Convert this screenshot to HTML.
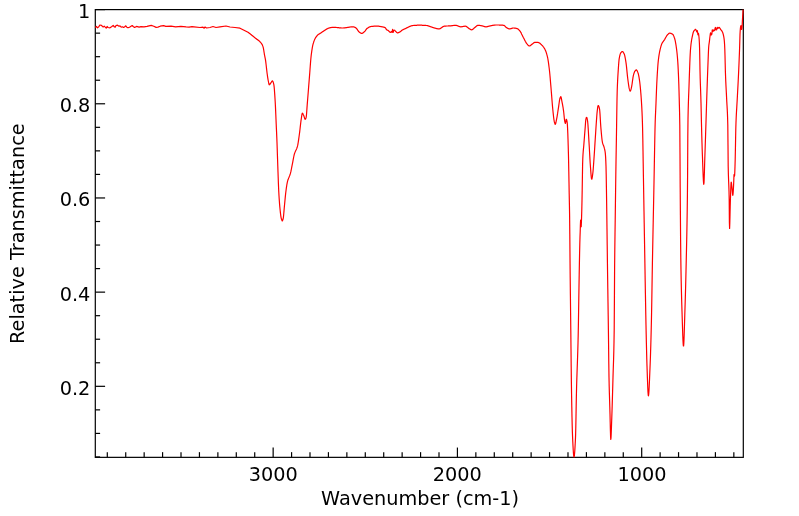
<!DOCTYPE html>
<html><head><meta charset="utf-8"><title>IR Spectrum</title>
<style>
html,body{margin:0;padding:0;background:#fff;}
svg{display:block;}
text{font-family:"DejaVu Sans","Liberation Sans",sans-serif;font-size:19.3px;fill:#000;}
</style></head><body>
<svg width="799" height="516" viewBox="0 0 799 516">
<rect width="799" height="516" fill="#fff"/>
<g stroke="#000" stroke-width="1.2" fill="none">
<rect x="95.3" y="9.6" width="648.0" height="447.75"/>
<line x1="733.84" y1="457.35" x2="733.84" y2="452.15000000000003"/><line x1="715.41" y1="457.35" x2="715.41" y2="452.15000000000003"/><line x1="696.98" y1="457.35" x2="696.98" y2="452.15000000000003"/><line x1="678.55" y1="457.35" x2="678.55" y2="452.15000000000003"/><line x1="660.13" y1="457.35" x2="660.13" y2="452.15000000000003"/><line x1="641.70" y1="457.35" x2="641.70" y2="447.55"/><line x1="623.27" y1="457.35" x2="623.27" y2="452.15000000000003"/><line x1="604.85" y1="457.35" x2="604.85" y2="452.15000000000003"/><line x1="586.42" y1="457.35" x2="586.42" y2="452.15000000000003"/><line x1="567.99" y1="457.35" x2="567.99" y2="452.15000000000003"/><line x1="549.56" y1="457.35" x2="549.56" y2="452.15000000000003"/><line x1="531.13" y1="457.35" x2="531.13" y2="452.15000000000003"/><line x1="512.71" y1="457.35" x2="512.71" y2="452.15000000000003"/><line x1="494.28" y1="457.35" x2="494.28" y2="452.15000000000003"/><line x1="475.85" y1="457.35" x2="475.85" y2="452.15000000000003"/><line x1="457.42" y1="457.35" x2="457.42" y2="447.55"/><line x1="439.00" y1="457.35" x2="439.00" y2="452.15000000000003"/><line x1="420.57" y1="457.35" x2="420.57" y2="452.15000000000003"/><line x1="402.14" y1="457.35" x2="402.14" y2="452.15000000000003"/><line x1="383.71" y1="457.35" x2="383.71" y2="452.15000000000003"/><line x1="365.29" y1="457.35" x2="365.29" y2="452.15000000000003"/><line x1="346.86" y1="457.35" x2="346.86" y2="452.15000000000003"/><line x1="328.43" y1="457.35" x2="328.43" y2="452.15000000000003"/><line x1="310.00" y1="457.35" x2="310.00" y2="452.15000000000003"/><line x1="291.58" y1="457.35" x2="291.58" y2="452.15000000000003"/><line x1="273.15" y1="457.35" x2="273.15" y2="447.55"/><line x1="254.72" y1="457.35" x2="254.72" y2="452.15000000000003"/><line x1="236.29" y1="457.35" x2="236.29" y2="452.15000000000003"/><line x1="217.87" y1="457.35" x2="217.87" y2="452.15000000000003"/><line x1="199.44" y1="457.35" x2="199.44" y2="452.15000000000003"/><line x1="181.01" y1="457.35" x2="181.01" y2="452.15000000000003"/><line x1="162.58" y1="457.35" x2="162.58" y2="452.15000000000003"/><line x1="144.16" y1="457.35" x2="144.16" y2="452.15000000000003"/><line x1="125.73" y1="457.35" x2="125.73" y2="452.15000000000003"/><line x1="107.30" y1="457.35" x2="107.30" y2="452.15000000000003"/>
<line x1="95.3" y1="9.60" x2="105.1" y2="9.60"/><line x1="95.3" y1="33.15" x2="100.1" y2="33.15"/><line x1="95.3" y1="56.69" x2="100.1" y2="56.69"/><line x1="95.3" y1="80.23" x2="100.1" y2="80.23"/><line x1="95.3" y1="103.78" x2="105.1" y2="103.78"/><line x1="95.3" y1="127.33" x2="100.1" y2="127.33"/><line x1="95.3" y1="150.87" x2="100.1" y2="150.87"/><line x1="95.3" y1="174.41" x2="100.1" y2="174.41"/><line x1="95.3" y1="197.96" x2="105.1" y2="197.96"/><line x1="95.3" y1="221.51" x2="100.1" y2="221.51"/><line x1="95.3" y1="245.05" x2="100.1" y2="245.05"/><line x1="95.3" y1="268.60" x2="100.1" y2="268.60"/><line x1="95.3" y1="292.14" x2="105.1" y2="292.14"/><line x1="95.3" y1="315.69" x2="100.1" y2="315.69"/><line x1="95.3" y1="339.23" x2="100.1" y2="339.23"/><line x1="95.3" y1="362.78" x2="100.1" y2="362.78"/><line x1="95.3" y1="386.32" x2="105.1" y2="386.32"/><line x1="95.3" y1="409.87" x2="100.1" y2="409.87"/><line x1="95.3" y1="433.41" x2="100.1" y2="433.41"/><line x1="95.3" y1="456.96" x2="100.1" y2="456.96"/>
</g>
<path d="M95.3,27.5 L96.5,26.5 L97.5,27.8 L98.8,26.8 L99.8,25.0 L101.5,25.4 L102.5,26.5 L103.2,27.0 L104.2,26.2 L105.2,27.2 L106.2,28.2 L107.1,26.5 L108.0,27.5 L110.0,27.8 L111.5,26.8 L113.2,25.5 L114.5,27.0 L115.2,27.2 L116.0,25.5 L117.5,25.2 L119.0,26.2 L120.0,25.9 L121.2,27.2 L122.5,26.8 L123.5,27.5 L124.5,27.0 L125.8,25.8 L126.8,27.2 L128.0,27.8 L129.5,27.2 L131.0,26.2 L132.2,25.5 L133.2,26.5 L134.6,27.5 L136.5,26.4 L139.1,27.1 L141.0,26.6 L144.0,26.8 L147.0,26.4 L151.2,25.4 L153.8,26.2 L156.1,27.4 L157.9,27.1 L160.2,26.2 L163.6,25.6 L165.8,26.4 L171.1,26.2 L175.6,26.8 L180.9,26.4 L186.1,26.9 L189.1,27.1 L192.0,26.6 L194.0,26.8 L200.0,27.5 L203.0,27.2 L204.2,28.2 L205.0,27.0 L206.5,28.0 L210.0,27.5 L213.0,26.5 L216.0,27.5 L220.0,26.8 L226.0,26.0 L230.0,27.0 L235.0,27.5 L240.0,28.2 L244.0,30.2 L248.0,32.2 L250.0,33.7 L250.2,33.9 L250.4,34.1 L250.6,34.2 L250.8,34.4 L251.0,34.6 L251.2,34.8 L251.4,34.9 L251.6,35.1 L251.8,35.2 L252.0,35.4 L252.2,35.6 L252.4,35.7 L252.6,35.9 L252.8,36.0 L253.0,36.2 L253.2,36.4 L253.4,36.5 L253.6,36.7 L253.8,36.9 L254.0,37.0 L254.2,37.2 L254.4,37.3 L254.6,37.5 L254.8,37.7 L255.0,37.8 L255.2,38.0 L255.4,38.2 L255.6,38.3 L255.8,38.5 L256.0,38.6 L256.2,38.8 L256.4,38.9 L256.6,39.1 L256.8,39.2 L257.0,39.4 L257.2,39.5 L257.4,39.6 L257.6,39.8 L257.8,39.9 L258.0,40.1 L258.2,40.2 L258.4,40.4 L258.6,40.5 L258.8,40.7 L259.0,40.9 L259.2,41.0 L259.4,41.2 L259.6,41.4 L259.8,41.6 L260.0,41.8 L260.2,42.0 L260.4,42.2 L260.6,42.4 L260.8,42.7 L261.0,42.9 L261.2,43.2 L261.4,43.4 L261.6,43.7 L261.8,44.0 L262.0,44.4 L262.2,44.7 L262.4,45.1 L262.6,45.6 L262.8,46.1 L263.0,46.6 L263.2,47.3 L263.4,48.2 L263.6,49.3 L263.8,50.5 L264.0,51.8 L264.2,53.0 L264.4,54.3 L264.6,55.4 L264.8,56.4 L265.0,57.4 L265.2,58.3 L265.4,59.4 L265.6,60.6 L265.8,62.1 L266.0,63.7 L266.2,65.5 L266.4,67.2 L266.6,69.1 L266.8,70.8 L267.0,72.5 L267.2,74.0 L267.4,75.4 L267.6,76.8 L267.8,78.2 L268.0,79.4 L268.2,80.5 L268.4,81.5 L268.6,82.5 L268.8,83.5 L269.0,84.3 L269.2,84.7 L269.4,84.8 L269.6,84.7 L269.8,84.5 L270.0,84.2 L270.2,83.9 L270.4,83.6 L270.6,83.3 L270.8,83.0 L271.0,82.7 L271.2,82.4 L271.4,82.1 L271.6,81.7 L271.8,81.4 L272.0,81.2 L272.2,81.0 L272.4,80.9 L272.6,81.0 L272.8,81.3 L273.0,81.7 L273.2,82.2 L273.4,82.9 L273.6,83.6 L273.8,84.4 L274.0,85.6 L274.2,87.4 L274.4,89.7 L274.6,92.5 L274.8,95.4 L275.0,98.5 L275.2,101.8 L275.4,105.6 L275.6,109.9 L275.8,114.5 L276.0,119.3 L276.2,124.0 L276.4,128.5 L276.6,132.9 L276.8,137.5 L277.0,142.6 L277.2,148.3 L277.4,154.4 L277.6,160.4 L277.8,166.2 L278.0,171.9 L278.2,177.6 L278.4,183.2 L278.6,188.2 L278.8,192.3 L279.0,195.8 L279.2,198.9 L279.4,201.8 L279.6,204.4 L279.8,206.7 L280.0,208.8 L280.2,210.7 L280.4,212.6 L280.6,214.3 L280.8,215.8 L281.0,217.1 L281.2,218.1 L281.4,218.8 L281.6,219.5 L281.8,220.1 L282.0,220.5 L282.2,220.8 L282.4,220.8 L282.6,220.5 L282.8,219.9 L283.0,219.3 L283.2,218.5 L283.4,217.3 L283.6,215.5 L283.8,213.3 L284.0,210.9 L284.2,208.5 L284.4,206.3 L284.6,204.2 L284.8,202.1 L285.0,200.0 L285.2,197.9 L285.4,195.9 L285.6,194.0 L285.8,192.3 L286.0,190.7 L286.2,189.2 L286.4,187.7 L286.6,186.3 L286.8,185.0 L287.0,183.9 L287.2,182.8 L287.4,181.9 L287.6,181.1 L287.8,180.4 L288.0,179.8 L288.2,179.2 L288.4,178.7 L288.6,178.1 L288.8,177.7 L289.0,177.2 L289.2,176.7 L289.4,176.3 L289.6,175.8 L289.8,175.3 L290.0,174.7 L290.2,174.1 L290.4,173.5 L290.6,172.7 L290.8,171.9 L291.0,171.0 L291.2,170.0 L291.4,169.0 L291.6,168.0 L291.8,166.9 L292.0,165.9 L292.2,164.9 L292.4,163.9 L292.6,162.9 L292.8,161.8 L293.0,160.7 L293.2,159.6 L293.4,158.6 L293.6,157.5 L293.8,156.5 L294.0,155.6 L294.2,154.7 L294.4,154.0 L294.6,153.3 L294.8,152.8 L295.0,152.2 L295.2,151.8 L295.4,151.3 L295.6,150.9 L295.8,150.5 L296.0,150.1 L296.2,149.7 L296.4,149.2 L296.6,148.8 L296.8,148.3 L297.0,147.7 L297.2,147.1 L297.4,146.5 L297.6,145.7 L297.8,144.8 L298.0,143.7 L298.2,142.5 L298.4,141.2 L298.6,139.9 L298.8,138.4 L299.0,137.0 L299.2,135.5 L299.4,134.0 L299.6,132.6 L299.8,130.9 L300.0,129.2 L300.2,127.4 L300.4,125.6 L300.6,123.9 L300.8,122.2 L301.0,120.7 L301.2,119.3 L301.4,118.0 L301.6,116.6 L301.8,115.3 L302.0,114.2 L302.2,113.5 L302.4,113.2 L302.6,113.3 L302.8,113.5 L303.0,113.9 L303.2,114.4 L303.4,114.8 L303.6,115.3 L303.8,115.8 L304.0,116.3 L304.2,116.9 L304.4,117.6 L304.6,118.2 L304.8,118.8 L305.0,119.2 L305.2,119.3 L305.4,119.2 L305.6,118.9 L305.8,118.5 L306.0,117.9 L306.2,117.2 L306.4,115.6 L306.6,113.3 L306.8,110.5 L307.0,107.6 L307.2,104.9 L307.4,102.4 L307.6,100.0 L307.8,97.5 L308.0,95.0 L308.2,92.5 L308.4,90.0 L308.6,87.4 L308.8,84.9 L309.0,82.4 L309.2,79.9 L309.4,77.4 L309.6,74.9 L309.8,72.2 L310.0,69.5 L310.2,66.8 L310.4,64.1 L310.6,61.6 L310.8,59.3 L311.0,57.2 L311.2,55.4 L311.4,53.8 L311.6,52.3 L311.8,50.9 L312.0,49.6 L312.2,48.3 L312.4,47.2 L312.6,46.2 L312.8,45.2 L313.0,44.4 L313.2,43.6 L313.4,43.0 L313.6,42.3 L313.8,41.7 L314.0,41.1 L314.2,40.6 L314.4,40.1 L314.6,39.6 L314.8,39.2 L315.0,38.8 L315.2,38.4 L315.4,38.0 L315.6,37.7 L315.8,37.4 L316.0,37.1 L316.2,36.8 L316.4,36.5 L316.6,36.3 L316.8,36.0 L317.0,35.8 L317.2,35.5 L317.4,35.3 L317.6,35.1 L317.8,34.9 L318.0,34.8 L318.2,34.6 L318.4,34.4 L318.6,34.3 L318.8,34.2 L319.0,34.1 L319.2,34.0 L319.4,33.8 L319.6,33.7 L319.8,33.6 L320.0,33.5 L320.2,33.4 L320.4,33.2 L320.6,33.1 L320.8,33.0 L321.0,32.8 L321.2,32.7 L321.4,32.6 L321.6,32.4 L321.8,32.3 L322.0,32.2 L322.2,32.0 L322.4,31.9 L322.6,31.7 L322.8,31.6 L323.0,31.5 L323.2,31.3 L323.4,31.2 L323.6,31.1 L323.8,30.9 L324.0,30.8 L324.2,30.7 L324.4,30.6 L324.6,30.4 L324.8,30.3 L325.0,30.2 L325.2,30.1 L325.4,29.9 L325.6,29.8 L325.8,29.7 L326.0,29.5 L326.2,29.4 L326.4,29.3 L326.6,29.1 L326.8,29.0 L327.0,28.9 L327.2,28.8 L327.4,28.7 L327.6,28.6 L327.8,28.5 L328.0,28.4 L328.2,28.3 L328.4,28.2 L328.6,28.1 L328.8,28.1 L329.0,28.0 L329.2,28.0 L329.4,27.9 L329.6,27.9 L329.8,27.8 L330.0,27.8 L330.2,27.7 L330.4,27.7 L330.6,27.6 L330.8,27.6 L331.0,27.6 L331.2,27.5 L331.4,27.5 L331.6,27.5 L331.8,27.4 L332.0,27.4 L332.2,27.4 L332.4,27.4 L332.6,27.3 L332.8,27.3 L333.0,27.3 L333.2,27.3 L333.4,27.3 L333.6,27.3 L333.8,27.3 L334.0,27.3 L334.2,27.3 L334.4,27.3 L334.6,27.3 L334.8,27.3 L335.0,27.4 L335.2,27.4 L335.4,27.4 L335.6,27.4 L335.8,27.4 L336.0,27.4 L336.2,27.5 L336.4,27.5 L336.6,27.5 L336.8,27.5 L337.0,27.5 L337.2,27.6 L337.4,27.6 L337.6,27.6 L337.8,27.6 L338.0,27.6 L338.2,27.7 L338.4,27.7 L338.6,27.7 L338.8,27.7 L339.0,27.8 L339.2,27.8 L339.4,27.8 L339.6,27.8 L339.8,27.8 L340.0,27.9 L340.2,27.9 L340.4,27.9 L340.6,27.9 L340.8,27.9 L341.0,27.9 L341.2,28.0 L341.4,28.0 L341.6,28.0 L341.8,28.0 L342.0,28.0 L342.2,28.0 L342.4,28.0 L342.6,28.0 L342.8,28.0 L343.0,28.0 L343.2,28.0 L343.4,28.0 L343.6,28.0 L343.8,27.9 L344.0,27.9 L344.2,27.9 L344.4,27.9 L344.6,27.9 L344.8,27.9 L345.0,27.8 L345.2,27.8 L345.4,27.8 L345.6,27.7 L345.8,27.7 L346.0,27.7 L346.2,27.7 L346.4,27.6 L346.6,27.6 L346.8,27.6 L347.0,27.5 L347.2,27.5 L347.4,27.5 L347.6,27.4 L347.8,27.4 L348.0,27.4 L348.2,27.3 L348.4,27.3 L348.6,27.3 L348.8,27.2 L349.0,27.2 L349.2,27.2 L349.4,27.1 L349.6,27.1 L349.8,27.1 L350.0,27.0 L350.2,27.0 L350.4,27.0 L350.6,27.0 L350.8,26.9 L351.0,26.9 L351.2,26.9 L351.4,26.9 L351.6,26.9 L351.8,26.8 L352.0,26.8 L352.2,26.8 L352.4,26.8 L352.6,26.8 L352.8,26.8 L353.0,26.8 L353.2,26.8 L353.4,26.8 L353.6,26.9 L353.8,26.9 L354.0,27.0 L354.2,27.0 L354.4,27.1 L354.6,27.2 L354.8,27.3 L355.0,27.4 L355.2,27.5 L355.4,27.6 L355.6,27.8 L355.8,27.9 L356.0,28.0 L356.2,28.1 L356.4,28.3 L356.6,28.5 L356.8,28.8 L357.0,29.1 L357.2,29.4 L357.4,29.7 L357.6,30.0 L357.8,30.3 L358.0,30.6 L358.2,30.9 L358.4,31.2 L358.6,31.5 L358.8,31.7 L359.0,31.9 L359.2,32.1 L359.4,32.3 L359.6,32.4 L359.8,32.5 L360.0,32.7 L360.2,32.8 L360.4,32.9 L360.6,33.0 L360.8,33.1 L361.0,33.2 L361.2,33.3 L361.4,33.4 L361.6,33.4 L361.8,33.4 L362.0,33.4 L362.2,33.3 L362.4,33.3 L362.6,33.2 L362.8,33.0 L363.0,32.9 L363.2,32.7 L363.4,32.6 L363.6,32.4 L363.8,32.2 L364.0,32.1 L364.2,31.9 L364.4,31.7 L364.6,31.5 L364.8,31.3 L365.0,31.1 L365.2,30.8 L365.4,30.5 L365.6,30.3 L365.8,30.0 L366.0,29.7 L366.2,29.5 L366.4,29.2 L366.6,29.0 L366.8,28.7 L367.0,28.5 L367.2,28.4 L367.4,28.2 L367.6,28.1 L367.8,28.0 L368.0,27.8 L368.2,27.7 L368.4,27.6 L368.6,27.4 L368.8,27.3 L369.0,27.2 L369.2,27.1 L369.4,27.0 L369.6,26.9 L369.8,26.8 L370.0,26.8 L370.2,26.7 L370.4,26.6 L370.6,26.6 L370.8,26.5 L371.0,26.5 L371.2,26.5 L371.4,26.5 L371.6,26.4 L371.8,26.4 L372.0,26.4 L372.2,26.4 L372.4,26.3 L372.6,26.3 L372.8,26.3 L373.0,26.3 L373.2,26.3 L373.4,26.3 L373.6,26.2 L373.8,26.2 L374.0,26.2 L374.2,26.2 L374.4,26.2 L374.6,26.2 L374.8,26.2 L375.0,26.1 L375.2,26.1 L375.4,26.1 L375.6,26.1 L375.8,26.1 L376.0,26.1 L376.2,26.1 L376.4,26.1 L376.6,26.1 L376.8,26.1 L377.0,26.1 L377.2,26.1 L377.4,26.1 L377.6,26.1 L377.8,26.1 L378.0,26.1 L378.2,26.2 L378.4,26.2 L378.6,26.2 L378.8,26.2 L379.0,26.3 L379.2,26.3 L379.4,26.3 L379.6,26.4 L379.8,26.4 L380.0,26.4 L380.2,26.5 L380.4,26.5 L380.6,26.5 L380.8,26.6 L381.0,26.6 L381.2,26.6 L381.4,26.7 L381.6,26.7 L381.8,26.8 L382.0,26.8 L382.2,26.8 L382.4,26.9 L382.6,26.9 L382.8,26.9 L383.0,27.0 L383.2,27.0 L383.4,27.1 L383.6,27.1 L383.8,27.1 L384.0,27.2 L384.2,27.3 L384.4,27.3 L384.6,27.4 L384.8,27.5 L385.0,27.6 L385.2,27.7 L385.4,27.9 L385.6,28.2 L385.8,28.5 L386.0,28.9 L386.2,29.2 L386.4,29.5 L386.6,29.7 L386.8,29.8 L387.0,30.0 L387.2,30.1 L387.4,30.1 L387.6,30.2 L387.8,30.3 L388.0,30.4 L388.2,30.5 L388.4,30.6 L388.6,30.8 L388.8,31.0 L389.0,31.3 L389.2,31.5 L389.4,31.7 L389.6,31.9 L389.8,32.1 L390.0,32.3 L390.2,32.4 L390.4,32.4 L390.6,32.3 L390.8,32.2 L391.0,31.9 L391.2,31.7 L391.4,31.6 L391.6,31.7 L391.8,32.1 L392.0,32.3 L392.2,31.7 L392.4,30.4 L392.6,29.4 L392.8,29.5 L393.0,31.2 L393.2,32.3 L393.4,31.7 L393.6,30.6 L393.8,30.3 L394.0,30.3 L394.2,30.2 L394.4,30.2 L394.6,30.3 L394.8,30.4 L395.0,30.6 L395.2,30.9 L395.4,31.1 L395.6,31.3 L395.8,31.5 L396.0,31.7 L396.2,31.9 L396.4,32.1 L396.6,32.3 L396.8,32.5 L397.0,32.7 L397.2,32.8 L397.4,32.8 L397.6,32.8 L397.8,32.8 L398.0,32.8 L398.2,32.7 L398.4,32.7 L398.6,32.6 L398.8,32.5 L399.0,32.4 L399.2,32.3 L399.4,32.2 L399.6,32.1 L399.8,32.0 L400.0,31.9 L400.2,31.8 L400.4,31.6 L400.6,31.5 L400.8,31.3 L401.0,31.1 L401.2,30.9 L401.4,30.7 L401.6,30.6 L401.8,30.4 L402.0,30.2 L402.2,30.1 L402.4,30.0 L402.6,29.9 L402.8,29.8 L403.0,29.7 L403.2,29.6 L403.4,29.5 L403.6,29.4 L403.8,29.3 L404.0,29.2 L404.2,29.1 L404.4,29.0 L404.6,28.9 L404.8,28.9 L405.0,28.8 L405.2,28.7 L405.4,28.6 L405.6,28.5 L405.8,28.4 L406.0,28.3 L406.2,28.2 L406.4,28.1 L406.6,28.0 L406.8,27.9 L407.0,27.7 L407.2,27.7 L407.4,27.6 L407.6,27.5 L407.8,27.4 L408.0,27.3 L408.2,27.2 L408.4,27.1 L408.6,27.0 L408.8,26.9 L409.0,26.8 L409.2,26.7 L409.4,26.6 L409.6,26.5 L409.8,26.4 L410.0,26.4 L410.2,26.3 L410.4,26.2 L410.6,26.1 L410.8,26.0 L411.0,26.0 L411.2,25.9 L411.4,25.8 L411.6,25.8 L411.8,25.7 L412.0,25.7 L412.2,25.6 L412.4,25.6 L412.6,25.6 L412.8,25.5 L413.0,25.5 L413.2,25.5 L413.4,25.5 L413.6,25.5 L413.8,25.4 L414.0,25.4 L414.2,25.4 L414.4,25.4 L414.6,25.4 L414.8,25.4 L415.0,25.4 L415.2,25.3 L415.4,25.3 L415.6,25.3 L415.8,25.3 L416.0,25.3 L416.2,25.3 L416.4,25.3 L416.6,25.3 L416.8,25.3 L417.0,25.2 L417.2,25.2 L417.4,25.2 L417.6,25.2 L417.8,25.2 L418.0,25.2 L418.2,25.2 L418.4,25.2 L418.6,25.2 L418.8,25.2 L419.0,25.2 L419.2,25.2 L419.4,25.2 L419.6,25.2 L419.8,25.2 L420.0,25.2 L420.2,25.2 L420.4,25.2 L420.6,25.2 L420.8,25.2 L421.0,25.2 L421.2,25.2 L421.4,25.2 L421.6,25.2 L421.8,25.2 L422.0,25.2 L422.2,25.3 L422.4,25.3 L422.6,25.3 L422.8,25.3 L423.0,25.3 L423.2,25.3 L423.4,25.3 L423.6,25.3 L423.8,25.3 L424.0,25.3 L424.2,25.3 L424.4,25.4 L424.6,25.4 L424.8,25.4 L425.0,25.4 L425.2,25.4 L425.4,25.4 L425.6,25.4 L425.8,25.4 L426.0,25.5 L426.2,25.5 L426.4,25.5 L426.6,25.5 L426.8,25.5 L427.0,25.5 L427.2,25.6 L427.4,25.6 L427.6,25.7 L427.8,25.7 L428.0,25.8 L428.2,25.9 L428.4,25.9 L428.6,26.0 L428.8,26.1 L429.0,26.2 L429.2,26.2 L429.4,26.3 L429.6,26.4 L429.8,26.4 L430.0,26.5 L430.2,26.6 L430.4,26.6 L430.6,26.7 L430.8,26.8 L431.0,26.8 L431.2,26.9 L431.4,27.0 L431.6,27.0 L431.8,27.1 L432.0,27.2 L432.2,27.3 L432.4,27.3 L432.6,27.4 L432.8,27.5 L433.0,27.5 L433.2,27.6 L433.4,27.7 L433.6,27.7 L433.8,27.8 L434.0,27.9 L434.2,27.9 L434.4,28.0 L434.6,28.0 L434.8,28.1 L435.0,28.1 L435.2,28.2 L435.4,28.2 L435.6,28.3 L435.8,28.3 L436.0,28.4 L436.2,28.5 L436.4,28.5 L436.6,28.6 L436.8,28.6 L437.0,28.6 L437.2,28.7 L437.4,28.7 L437.6,28.8 L437.8,28.8 L438.0,28.8 L438.2,28.9 L438.4,28.9 L438.6,28.9 L438.8,28.9 L439.0,28.9 L439.2,28.9 L439.4,28.9 L439.6,28.8 L439.8,28.7 L440.0,28.7 L440.2,28.6 L440.4,28.5 L440.6,28.3 L440.8,28.2 L441.0,28.1 L441.2,27.9 L441.4,27.8 L441.6,27.7 L441.8,27.5 L442.0,27.4 L442.2,27.2 L442.4,27.1 L442.6,26.9 L442.8,26.8 L443.0,26.7 L443.2,26.6 L443.4,26.5 L443.6,26.4 L443.8,26.3 L444.0,26.3 L444.2,26.2 L444.4,26.2 L444.6,26.2 L444.8,26.1 L445.0,26.1 L445.2,26.1 L445.4,26.1 L445.6,26.1 L445.8,26.1 L446.0,26.1 L446.2,26.0 L446.4,26.0 L446.6,26.0 L446.8,26.0 L447.0,26.0 L447.2,26.0 L447.4,26.0 L447.6,26.0 L447.8,26.0 L448.0,26.0 L448.2,26.0 L448.4,25.9 L448.6,25.9 L448.8,25.9 L449.0,25.9 L449.2,25.9 L449.4,25.9 L449.6,25.9 L449.8,25.9 L450.0,25.9 L450.2,25.9 L450.4,25.8 L450.6,25.8 L450.8,25.8 L451.0,25.8 L451.2,25.8 L451.4,25.8 L451.6,25.7 L451.8,25.7 L452.0,25.7 L452.2,25.7 L452.4,25.6 L452.6,25.6 L452.8,25.6 L453.0,25.5 L453.2,25.5 L453.4,25.5 L453.6,25.5 L453.8,25.4 L454.0,25.4 L454.2,25.4 L454.4,25.4 L454.6,25.3 L454.8,25.3 L455.0,25.3 L455.2,25.3 L455.4,25.3 L455.6,25.3 L455.8,25.3 L456.0,25.3 L456.2,25.4 L456.4,25.4 L456.6,25.5 L456.8,25.5 L457.0,25.6 L457.2,25.7 L457.4,25.7 L457.6,25.8 L457.8,25.9 L458.0,26.0 L458.2,26.1 L458.4,26.2 L458.6,26.2 L458.8,26.3 L459.0,26.4 L459.2,26.5 L459.4,26.5 L459.6,26.6 L459.8,26.7 L460.0,26.7 L460.2,26.7 L460.4,26.8 L460.6,26.8 L460.8,26.8 L461.0,26.8 L461.2,26.8 L461.4,26.8 L461.6,26.7 L461.8,26.7 L462.0,26.7 L462.2,26.7 L462.4,26.6 L462.6,26.6 L462.8,26.5 L463.0,26.5 L463.2,26.5 L463.4,26.4 L463.6,26.4 L463.8,26.4 L464.0,26.3 L464.2,26.3 L464.4,26.3 L464.6,26.2 L464.8,26.2 L465.0,26.2 L465.2,26.2 L465.4,26.2 L465.6,26.2 L465.8,26.3 L466.0,26.3 L466.2,26.4 L466.4,26.5 L466.6,26.7 L466.8,26.8 L467.0,27.0 L467.2,27.1 L467.4,27.3 L467.6,27.4 L467.8,27.6 L468.0,27.8 L468.2,27.9 L468.4,28.1 L468.6,28.3 L468.8,28.4 L469.0,28.6 L469.2,28.7 L469.4,28.8 L469.6,28.9 L469.8,29.0 L470.0,29.1 L470.2,29.3 L470.4,29.4 L470.6,29.5 L470.8,29.6 L471.0,29.7 L471.2,29.7 L471.4,29.8 L471.6,29.8 L471.8,29.8 L472.0,29.7 L472.2,29.7 L472.4,29.6 L472.6,29.4 L472.8,29.3 L473.0,29.2 L473.2,29.0 L473.4,28.8 L473.6,28.6 L473.8,28.4 L474.0,28.2 L474.2,28.1 L474.4,27.9 L474.6,27.7 L474.8,27.5 L475.0,27.4 L475.2,27.2 L475.4,27.1 L475.6,26.9 L475.8,26.7 L476.0,26.6 L476.2,26.4 L476.4,26.2 L476.6,26.0 L476.8,25.9 L477.0,25.7 L477.2,25.6 L477.4,25.5 L477.6,25.4 L477.8,25.3 L478.0,25.3 L478.2,25.3 L478.4,25.3 L478.6,25.3 L478.8,25.3 L479.0,25.3 L479.2,25.4 L479.4,25.4 L479.6,25.4 L479.8,25.4 L480.0,25.5 L480.2,25.5 L480.4,25.5 L480.6,25.6 L480.8,25.6 L481.0,25.7 L481.2,25.7 L481.4,25.7 L481.6,25.8 L481.8,25.8 L482.0,25.8 L482.2,25.9 L482.4,25.9 L482.6,26.0 L482.8,26.0 L483.0,26.1 L483.2,26.2 L483.4,26.2 L483.6,26.3 L483.8,26.4 L484.0,26.4 L484.2,26.5 L484.4,26.6 L484.6,26.6 L484.8,26.7 L485.0,26.7 L485.2,26.7 L485.4,26.8 L485.6,26.8 L485.8,26.8 L486.0,26.8 L486.2,26.8 L486.4,26.8 L486.6,26.8 L486.8,26.7 L487.0,26.7 L487.2,26.6 L487.4,26.6 L487.6,26.6 L487.8,26.5 L488.0,26.4 L488.2,26.4 L488.4,26.3 L488.6,26.3 L488.8,26.2 L489.0,26.2 L489.2,26.1 L489.4,26.1 L489.6,26.0 L489.8,26.0 L490.0,25.9 L490.2,25.9 L490.4,25.8 L490.6,25.8 L490.8,25.8 L491.0,25.7 L491.2,25.7 L491.4,25.6 L491.6,25.6 L491.8,25.6 L492.0,25.5 L492.2,25.5 L492.4,25.4 L492.6,25.4 L492.8,25.4 L493.0,25.3 L493.2,25.3 L493.4,25.3 L493.6,25.2 L493.8,25.2 L494.0,25.2 L494.2,25.1 L494.4,25.1 L494.6,25.1 L494.8,25.1 L495.0,25.1 L495.2,25.0 L495.4,25.0 L495.6,25.0 L495.8,25.0 L496.0,25.0 L496.2,25.0 L496.4,25.0 L496.6,25.0 L496.8,25.0 L497.0,25.0 L497.2,25.0 L497.4,25.0 L497.6,25.0 L497.8,25.0 L498.0,25.0 L498.2,25.0 L498.4,25.0 L498.6,25.0 L498.8,25.0 L499.0,25.0 L499.2,25.0 L499.4,25.1 L499.6,25.1 L499.8,25.1 L500.0,25.1 L500.2,25.1 L500.4,25.1 L500.6,25.1 L500.8,25.1 L501.0,25.1 L501.2,25.1 L501.4,25.1 L501.6,25.2 L501.8,25.2 L502.0,25.2 L502.2,25.2 L502.4,25.2 L502.6,25.2 L502.8,25.2 L503.0,25.3 L503.2,25.3 L503.4,25.3 L503.6,25.3 L503.8,25.3 L504.0,25.4 L504.2,25.5 L504.4,25.7 L504.6,25.8 L504.8,26.0 L505.0,26.2 L505.2,26.4 L505.4,26.6 L505.6,26.9 L505.8,27.1 L506.0,27.3 L506.2,27.4 L506.4,27.6 L506.6,27.7 L506.8,27.8 L507.0,27.9 L507.2,28.0 L507.4,28.1 L507.6,28.2 L507.8,28.4 L508.0,28.5 L508.2,28.5 L508.4,28.6 L508.6,28.7 L508.8,28.8 L509.0,28.8 L509.2,28.9 L509.4,28.9 L509.6,28.9 L509.8,28.9 L510.0,28.9 L510.2,28.8 L510.4,28.8 L510.6,28.7 L510.8,28.7 L511.0,28.6 L511.2,28.6 L511.4,28.5 L511.6,28.4 L511.8,28.3 L512.0,28.3 L512.2,28.2 L512.4,28.2 L512.6,28.1 L512.8,28.1 L513.0,28.0 L513.2,28.0 L513.4,28.0 L513.6,28.0 L513.8,28.0 L514.0,28.0 L514.2,28.0 L514.4,28.1 L514.6,28.1 L514.8,28.1 L515.0,28.1 L515.2,28.2 L515.4,28.2 L515.6,28.2 L515.8,28.3 L516.0,28.3 L516.2,28.4 L516.4,28.4 L516.6,28.5 L516.8,28.5 L517.0,28.6 L517.2,28.6 L517.4,28.7 L517.6,28.8 L517.8,28.9 L518.0,29.1 L518.2,29.2 L518.4,29.4 L518.6,29.6 L518.8,29.8 L519.0,30.0 L519.2,30.2 L519.4,30.4 L519.6,30.6 L519.8,30.8 L520.0,31.1 L520.2,31.4 L520.4,31.7 L520.6,32.0 L520.8,32.4 L521.0,32.7 L521.2,33.1 L521.4,33.5 L521.6,34.0 L521.8,34.4 L522.0,34.8 L522.2,35.2 L522.4,35.6 L522.6,36.0 L522.8,36.4 L523.0,36.8 L523.2,37.2 L523.4,37.6 L523.6,37.9 L523.8,38.3 L524.0,38.7 L524.2,39.1 L524.4,39.5 L524.6,39.9 L524.8,40.3 L525.0,40.7 L525.2,41.1 L525.4,41.5 L525.6,41.8 L525.8,42.2 L526.0,42.5 L526.2,42.8 L526.4,43.1 L526.6,43.4 L526.8,43.7 L527.0,43.9 L527.2,44.2 L527.4,44.4 L527.6,44.6 L527.8,44.9 L528.0,45.1 L528.2,45.3 L528.4,45.5 L528.6,45.7 L528.8,45.8 L529.0,45.9 L529.2,46.0 L529.4,46.0 L529.6,46.0 L529.8,45.9 L530.0,45.8 L530.2,45.7 L530.4,45.6 L530.6,45.4 L530.8,45.3 L531.0,45.1 L531.2,44.9 L531.4,44.7 L531.6,44.6 L531.8,44.4 L532.0,44.3 L532.2,44.1 L532.4,44.0 L532.6,43.8 L532.8,43.7 L533.0,43.5 L533.2,43.3 L533.4,43.2 L533.6,43.0 L533.8,42.9 L534.0,42.7 L534.2,42.6 L534.4,42.5 L534.6,42.4 L534.8,42.3 L535.0,42.3 L535.2,42.3 L535.4,42.3 L535.6,42.3 L535.8,42.3 L536.0,42.3 L536.2,42.3 L536.4,42.3 L536.6,42.3 L536.8,42.3 L537.0,42.4 L537.2,42.4 L537.4,42.4 L537.6,42.4 L537.8,42.4 L538.0,42.4 L538.2,42.5 L538.4,42.5 L538.6,42.6 L538.8,42.7 L539.0,42.8 L539.2,42.9 L539.4,43.0 L539.6,43.1 L539.8,43.3 L540.0,43.4 L540.2,43.6 L540.4,43.8 L540.6,43.9 L540.8,44.1 L541.0,44.3 L541.2,44.5 L541.4,44.7 L541.6,44.9 L541.8,45.1 L542.0,45.3 L542.2,45.5 L542.4,45.7 L542.6,45.9 L542.8,46.1 L543.0,46.4 L543.2,46.6 L543.4,46.9 L543.6,47.1 L543.8,47.4 L544.0,47.7 L544.2,48.1 L544.4,48.4 L544.6,48.7 L544.8,49.1 L545.0,49.5 L545.2,49.9 L545.4,50.3 L545.6,50.8 L545.8,51.3 L546.0,51.8 L546.2,52.4 L546.4,53.0 L546.6,53.7 L546.8,54.4 L547.0,55.1 L547.2,55.9 L547.4,56.7 L547.6,57.5 L547.8,58.5 L548.0,59.7 L548.2,60.9 L548.4,62.2 L548.6,63.6 L548.8,65.1 L549.0,66.7 L549.2,68.3 L549.4,70.0 L549.6,71.8 L549.8,73.8 L550.0,76.0 L550.2,78.2 L550.4,80.6 L550.6,83.0 L550.8,85.4 L551.0,87.8 L551.2,90.2 L551.4,92.6 L551.6,95.1 L551.8,97.6 L552.0,100.2 L552.2,102.7 L552.4,105.1 L552.6,107.4 L552.8,109.5 L553.0,111.5 L553.2,113.4 L553.4,115.2 L553.6,117.0 L553.8,118.6 L554.0,120.0 L554.2,121.2 L554.4,122.0 L554.6,122.8 L554.8,123.4 L555.0,124.0 L555.2,124.3 L555.4,124.2 L555.6,123.8 L555.8,123.1 L556.0,122.2 L556.2,121.2 L556.4,120.2 L556.6,119.2 L556.8,118.2 L557.0,117.1 L557.2,115.9 L557.4,114.6 L557.6,113.4 L557.8,112.0 L558.0,110.7 L558.2,109.4 L558.4,108.1 L558.6,106.8 L558.8,105.4 L559.0,104.0 L559.2,102.5 L559.4,101.1 L559.6,99.8 L559.8,98.8 L560.0,98.2 L560.2,97.6 L560.4,97.2 L560.6,96.8 L560.8,96.7 L561.0,97.0 L561.2,97.6 L561.4,98.6 L561.6,99.7 L561.8,100.8 L562.0,101.8 L562.2,102.8 L562.4,103.8 L562.6,104.9 L562.8,106.1 L563.0,107.2 L563.2,108.5 L563.4,109.8 L563.6,111.2 L563.8,113.0 L564.0,115.0 L564.2,117.0 L564.4,118.9 L564.6,120.5 L564.8,121.6 L565.0,122.4 L565.2,123.1 L565.4,123.4 L565.6,122.9 L565.8,121.7 L566.0,120.4 L566.2,119.4 L566.4,119.3 L566.6,119.7 L566.8,120.4 L567.0,121.3 L567.2,122.5 L567.4,124.9 L567.6,128.8 L567.8,133.3 L568.0,138.9 L568.2,145.5 L568.4,152.8 L568.6,161.2 L568.8,171.4 L569.0,182.6 L569.2,193.7 L569.4,203.5 L569.6,215.0 L569.8,234.1 L570.0,257.5 L570.2,277.6 L570.4,295.5 L570.6,312.8 L570.8,330.0 L571.0,348.5 L571.2,367.3 L571.4,383.8 L571.6,396.2 L571.8,407.1 L572.0,417.0 L572.2,425.6 L572.4,432.6 L572.6,437.8 L572.8,442.0 L573.0,445.9 L573.2,449.5 L573.4,452.6 L573.6,454.9 L573.8,456.5 L574.0,457.0 L574.2,456.6 L574.4,455.3 L574.6,453.3 L574.8,450.6 L575.0,447.4 L575.2,443.8 L575.4,439.9 L575.6,435.1 L575.8,427.0 L576.0,416.4 L576.2,405.1 L576.4,394.7 L576.6,386.6 L576.8,379.8 L577.0,373.7 L577.2,368.0 L577.4,362.4 L577.6,356.6 L577.8,350.3 L578.0,343.2 L578.2,335.0 L578.4,324.3 L578.6,311.4 L578.8,298.2 L579.0,286.1 L579.2,274.3 L579.4,263.2 L579.6,253.0 L579.8,243.9 L580.0,236.8 L580.2,231.4 L580.4,224.4 L580.6,220.2 L580.8,223.2 L581.0,226.8 L581.2,226.7 L581.4,222.2 L581.6,216.6 L581.8,209.2 L582.0,200.4 L582.2,190.0 L582.4,176.9 L582.6,164.3 L582.8,158.2 L583.0,154.5 L583.2,151.7 L583.4,149.4 L583.6,147.4 L583.8,145.2 L584.0,142.6 L584.2,140.0 L584.4,137.5 L584.6,134.9 L584.8,132.4 L585.0,129.9 L585.2,127.4 L585.4,124.5 L585.6,121.6 L585.8,119.7 L586.0,118.8 L586.2,118.0 L586.4,117.5 L586.6,117.3 L586.8,117.5 L587.0,118.1 L587.2,118.9 L587.4,120.0 L587.6,121.1 L587.8,123.0 L588.0,125.5 L588.2,128.5 L588.4,131.8 L588.6,135.3 L588.8,138.9 L589.0,142.3 L589.2,145.5 L589.4,149.0 L589.6,152.7 L589.8,156.4 L590.0,159.9 L590.2,163.2 L590.4,166.0 L590.6,168.7 L590.8,171.5 L591.0,174.1 L591.2,176.4 L591.4,178.2 L591.6,179.2 L591.8,179.2 L592.0,178.7 L592.2,177.7 L592.4,176.4 L592.6,174.9 L592.8,173.4 L593.0,171.6 L593.2,169.4 L593.4,166.8 L593.6,164.0 L593.8,161.1 L594.0,158.2 L594.2,155.4 L594.4,152.4 L594.6,149.3 L594.8,146.1 L595.0,142.9 L595.2,139.7 L595.4,136.6 L595.6,133.5 L595.8,130.4 L596.0,127.3 L596.2,124.3 L596.4,121.4 L596.6,118.6 L596.8,115.8 L597.0,113.3 L597.2,111.4 L597.4,109.7 L597.6,108.1 L597.8,106.7 L598.0,105.8 L598.2,105.5 L598.4,105.6 L598.6,105.9 L598.8,106.3 L599.0,106.9 L599.2,107.5 L599.4,108.3 L599.6,109.3 L599.8,111.2 L600.0,113.9 L600.2,117.1 L600.4,120.5 L600.6,123.9 L600.8,126.8 L601.0,129.1 L601.2,131.4 L601.4,133.6 L601.6,135.8 L601.8,137.7 L602.0,139.5 L602.2,141.0 L602.4,142.1 L602.6,143.0 L602.8,143.7 L603.0,144.3 L603.2,144.8 L603.4,145.3 L603.6,145.8 L603.8,146.3 L604.0,146.9 L604.2,147.6 L604.4,148.4 L604.6,149.1 L604.8,150.0 L605.0,151.0 L605.2,152.3 L605.4,154.1 L605.6,156.9 L605.8,160.9 L606.0,166.0 L606.2,174.5 L606.4,186.7 L606.6,200.0 L606.8,213.9 L607.0,229.2 L607.2,245.1 L607.4,260.7 L607.6,275.2 L607.8,288.8 L608.0,302.2 L608.2,315.8 L608.4,330.0 L608.6,346.6 L608.8,363.8 L609.0,377.3 L609.2,386.4 L609.4,393.8 L609.6,400.3 L609.8,406.7 L610.0,413.7 L610.2,422.2 L610.4,430.6 L610.6,437.0 L610.8,439.5 L611.0,437.9 L611.2,433.9 L611.4,428.5 L611.6,422.7 L611.8,417.3 L612.0,411.6 L612.2,405.3 L612.4,398.6 L612.6,391.6 L612.8,384.5 L613.0,377.3 L613.2,370.8 L613.4,364.9 L613.6,358.7 L613.8,351.5 L614.0,342.2 L614.2,330.0 L614.4,300.9 L614.6,268.1 L614.8,249.3 L615.0,234.3 L615.2,220.4 L615.4,205.2 L615.6,189.7 L615.8,175.2 L616.0,162.3 L616.2,150.3 L616.4,138.4 L616.6,125.4 L616.8,111.9 L617.0,99.8 L617.2,91.2 L617.4,85.6 L617.6,81.1 L617.8,77.3 L618.0,74.0 L618.2,70.9 L618.4,67.9 L618.6,65.0 L618.8,62.4 L619.0,60.2 L619.2,58.7 L619.4,57.6 L619.6,56.5 L619.8,55.6 L620.0,54.8 L620.2,54.1 L620.4,53.6 L620.6,53.2 L620.8,52.9 L621.0,52.6 L621.2,52.3 L621.4,52.1 L621.6,51.8 L621.8,51.7 L622.0,51.6 L622.2,51.5 L622.4,51.5 L622.6,51.6 L622.8,51.7 L623.0,51.9 L623.2,52.2 L623.4,52.5 L623.6,52.8 L623.8,53.2 L624.0,53.6 L624.2,54.0 L624.4,54.4 L624.6,55.1 L624.8,55.8 L625.0,56.8 L625.2,57.8 L625.4,59.0 L625.6,60.2 L625.8,61.4 L626.0,62.7 L626.2,64.1 L626.4,65.8 L626.6,67.6 L626.8,69.6 L627.0,71.6 L627.2,73.6 L627.4,75.6 L627.6,77.4 L627.8,79.0 L628.0,80.5 L628.2,82.0 L628.4,83.5 L628.6,84.9 L628.8,86.2 L629.0,87.4 L629.2,88.4 L629.4,89.2 L629.6,89.9 L629.8,90.5 L630.0,91.0 L630.2,91.2 L630.4,91.0 L630.6,90.6 L630.8,90.0 L631.0,89.3 L631.2,88.5 L631.4,87.6 L631.6,86.8 L631.8,85.7 L632.0,84.5 L632.2,83.1 L632.4,81.7 L632.6,80.2 L632.8,78.8 L633.0,77.4 L633.2,76.3 L633.4,75.3 L633.6,74.6 L633.8,73.9 L634.0,73.3 L634.2,72.7 L634.4,72.2 L634.6,71.7 L634.8,71.4 L635.0,71.0 L635.2,70.8 L635.4,70.5 L635.6,70.3 L635.8,70.1 L636.0,70.0 L636.2,69.9 L636.4,69.9 L636.6,70.0 L636.8,70.3 L637.0,70.6 L637.2,70.9 L637.4,71.4 L637.6,71.9 L637.8,72.4 L638.0,72.9 L638.2,73.5 L638.4,74.2 L638.6,75.1 L638.8,76.1 L639.0,77.2 L639.2,78.4 L639.4,79.7 L639.6,81.0 L639.8,82.5 L640.0,84.2 L640.2,86.1 L640.4,88.2 L640.6,90.4 L640.8,92.8 L641.0,95.3 L641.2,98.0 L641.4,100.9 L641.6,104.1 L641.8,107.6 L642.0,111.6 L642.2,116.1 L642.4,121.7 L642.6,128.9 L642.8,138.6 L643.0,150.2 L643.2,162.8 L643.4,175.6 L643.6,187.8 L643.8,199.4 L644.0,211.2 L644.2,223.0 L644.4,234.8 L644.6,246.5 L644.8,258.0 L645.0,269.6 L645.2,281.4 L645.4,293.1 L645.6,304.5 L645.8,315.3 L646.0,325.2 L646.2,334.5 L646.4,343.6 L646.6,352.0 L646.8,359.6 L647.0,366.0 L647.2,371.8 L647.4,377.7 L647.6,383.3 L647.8,388.3 L648.0,392.2 L648.2,394.8 L648.4,395.8 L648.6,395.1 L648.8,393.2 L649.0,390.2 L649.2,386.5 L649.4,382.1 L649.6,377.5 L649.8,372.7 L650.0,368.0 L650.2,363.1 L650.4,357.7 L650.6,351.6 L650.8,345.0 L651.0,337.8 L651.2,330.1 L651.4,321.6 L651.6,311.4 L651.8,299.9 L652.0,287.6 L652.2,275.3 L652.4,263.5 L652.6,252.7 L652.8,242.4 L653.0,232.3 L653.2,222.4 L653.4,212.6 L653.6,202.7 L653.8,192.8 L654.0,182.6 L654.2,171.6 L654.4,160.2 L654.6,149.0 L654.8,138.5 L655.0,129.3 L655.2,122.0 L655.4,116.5 L655.6,112.1 L655.8,107.8 L656.0,103.0 L656.2,97.8 L656.4,92.6 L656.6,87.5 L656.8,83.0 L657.0,79.2 L657.2,75.6 L657.4,72.3 L657.6,69.2 L657.8,66.3 L658.0,63.8 L658.2,61.6 L658.4,59.8 L658.6,58.2 L658.8,56.7 L659.0,55.3 L659.2,54.1 L659.4,53.0 L659.6,51.9 L659.8,51.0 L660.0,50.1 L660.2,49.2 L660.4,48.4 L660.6,47.6 L660.8,46.8 L661.0,46.1 L661.2,45.5 L661.4,44.9 L661.6,44.3 L661.8,43.8 L662.0,43.4 L662.2,43.0 L662.4,42.7 L662.6,42.3 L662.8,42.0 L663.0,41.8 L663.2,41.5 L663.4,41.3 L663.6,41.0 L663.8,40.7 L664.0,40.5 L664.2,40.2 L664.4,39.9 L664.6,39.6 L664.8,39.2 L665.0,38.9 L665.2,38.5 L665.4,38.1 L665.6,37.7 L665.8,37.3 L666.0,37.0 L666.2,36.6 L666.4,36.3 L666.6,36.0 L666.8,35.7 L667.0,35.4 L667.2,35.2 L667.4,35.0 L667.6,34.7 L667.8,34.5 L668.0,34.3 L668.2,34.1 L668.4,33.9 L668.6,33.7 L668.8,33.6 L669.0,33.4 L669.2,33.3 L669.4,33.2 L669.6,33.2 L669.8,33.2 L670.0,33.2 L670.2,33.2 L670.4,33.3 L670.6,33.3 L670.8,33.4 L671.0,33.4 L671.2,33.5 L671.4,33.6 L671.6,33.7 L671.8,33.8 L672.0,33.9 L672.2,34.0 L672.4,34.1 L672.6,34.2 L672.8,34.4 L673.0,34.6 L673.2,34.9 L673.4,35.2 L673.6,35.7 L673.8,36.1 L674.0,36.6 L674.2,37.2 L674.4,37.7 L674.6,38.3 L674.8,39.0 L675.0,39.8 L675.2,40.7 L675.4,41.7 L675.6,42.8 L675.8,43.9 L676.0,45.2 L676.2,46.5 L676.4,47.9 L676.6,49.4 L676.8,51.0 L677.0,52.8 L677.2,54.8 L677.4,57.0 L677.6,59.4 L677.8,62.1 L678.0,65.4 L678.2,69.2 L678.4,73.6 L678.6,78.4 L678.8,83.8 L679.0,90.2 L679.2,97.5 L679.4,105.5 L679.6,113.6 L679.8,125.0 L680.0,153.4 L680.2,187.8 L680.4,215.0 L680.6,239.8 L680.8,258.0 L681.0,270.5 L681.2,281.1 L681.4,290.1 L681.6,297.9 L681.8,304.8 L682.0,311.2 L682.2,317.6 L682.4,324.0 L682.6,330.2 L682.8,335.9 L683.0,340.6 L683.2,344.1 L683.4,346.0 L683.6,346.0 L683.8,343.7 L684.0,339.5 L684.2,334.0 L684.4,327.7 L684.6,320.9 L684.8,314.3 L685.0,308.1 L685.2,301.7 L685.4,294.8 L685.6,287.4 L685.8,279.6 L686.0,271.3 L686.2,262.6 L686.4,253.4 L686.6,244.4 L686.8,234.9 L687.0,224.3 L687.2,211.7 L687.4,196.6 L687.6,174.0 L687.8,136.7 L688.0,119.1 L688.2,109.6 L688.4,102.5 L688.6,96.8 L688.8,91.8 L689.0,86.4 L689.2,80.5 L689.4,74.6 L689.6,68.9 L689.8,63.5 L690.0,58.6 L690.2,54.3 L690.4,50.9 L690.6,48.3 L690.8,46.2 L691.0,44.3 L691.2,42.7 L691.4,41.3 L691.6,40.0 L691.8,38.9 L692.0,37.8 L692.2,36.9 L692.4,36.0 L692.6,35.1 L692.8,34.2 L693.0,33.3 L693.2,32.5 L693.4,31.9 L693.6,31.5 L693.8,31.1 L694.0,30.8 L694.2,30.5 L694.4,30.3 L694.6,30.1 L694.8,29.8 L695.0,29.6 L695.2,29.4 L695.4,29.3 L695.6,29.3 L695.8,29.6 L696.0,30.0 L696.2,30.4 L696.4,30.9 L696.6,31.5 L696.8,31.9 L697.0,31.2 L697.2,30.5 L697.4,31.1 L697.6,32.4 L697.8,34.0 L698.0,34.9 L698.2,34.1 L698.4,33.4 L698.6,34.0 L698.8,35.5 L699.0,37.2 L699.2,39.7 L699.4,43.2 L699.6,48.6 L699.8,58.7 L700.0,70.2 L700.2,78.5 L700.4,84.8 L700.6,90.3 L700.8,96.0 L701.0,102.7 L701.2,111.4 L701.4,120.8 L701.6,128.9 L701.8,136.3 L702.0,143.3 L702.2,149.7 L702.4,155.3 L702.6,160.7 L702.8,166.4 L703.0,171.8 L703.2,176.7 L703.4,180.7 L703.6,183.3 L703.8,184.3 L704.0,182.6 L704.2,178.2 L704.4,172.0 L704.6,165.1 L704.8,158.3 L705.0,152.4 L705.2,146.6 L705.4,140.5 L705.6,134.3 L705.8,128.1 L706.0,121.9 L706.2,115.5 L706.4,109.0 L706.6,102.6 L706.8,96.4 L707.0,90.5 L707.2,84.7 L707.4,79.0 L707.6,73.5 L707.8,68.2 L708.0,63.1 L708.2,57.8 L708.4,52.6 L708.6,48.4 L708.8,45.8 L709.0,44.1 L709.2,42.8 L709.4,41.3 L709.6,39.6 L709.8,37.8 L710.0,36.3 L710.2,34.8 L710.4,33.4 L710.6,32.8 L710.8,33.2 L711.0,34.1 L711.2,34.9 L711.4,35.0 L711.6,34.7 L711.8,34.1 L712.0,33.0 L712.2,30.3 L712.4,29.8 L712.6,30.6 L712.8,31.5 L713.0,31.5 L713.2,31.2 L713.4,30.7 L713.6,30.2 L713.8,30.0 L714.0,30.2 L714.2,30.4 L714.4,30.6 L714.6,30.3 L714.8,29.5 L715.0,28.6 L715.2,27.8 L715.4,27.5 L715.6,28.0 L715.8,29.0 L716.0,29.9 L716.2,30.0 L716.4,29.9 L716.6,29.8 L716.8,29.5 L717.0,28.4 L717.2,27.5 L717.4,27.4 L717.6,27.8 L717.8,28.3 L718.0,28.4 L718.2,28.2 L718.4,28.0 L718.6,27.7 L718.8,27.5 L719.0,27.3 L719.2,27.3 L719.4,27.5 L719.6,27.8 L719.8,28.1 L720.0,28.4 L720.2,28.7 L720.4,29.0 L720.6,29.3 L720.8,29.6 L721.0,29.9 L721.2,30.2 L721.4,30.4 L721.6,30.7 L721.8,31.0 L722.0,31.2 L722.2,31.5 L722.4,31.9 L722.6,32.3 L722.8,32.9 L723.0,33.5 L723.2,34.2 L723.4,35.0 L723.6,35.9 L723.8,36.9 L724.0,38.1 L724.2,39.6 L724.4,41.8 L724.6,44.7 L724.8,49.0 L725.0,55.5 L725.2,63.8 L725.4,71.7 L725.6,77.4 L725.8,82.1 L726.0,86.2 L726.2,90.0 L726.4,93.9 L726.6,98.0 L726.8,101.9 L727.0,105.2 L727.2,108.6 L727.4,112.6 L727.6,117.9 L727.8,125.0 L728.0,145.1 L728.2,166.5 L728.4,175.1 L728.6,180.6 L728.8,185.2 L729.0,190.7 L729.2,199.4 L729.4,222.8 L729.6,228.5 L729.8,223.3 L730.0,215.1 L730.2,206.3 L730.4,199.4 L730.6,193.8 L730.8,188.1 L731.0,183.8 L731.2,182.1 L731.4,182.7 L731.6,184.2 L731.8,186.1 L732.0,187.9 L732.2,190.0 L732.4,192.4 L732.6,194.4 L732.8,195.3 L733.0,194.4 L733.2,192.0 L733.4,188.7 L733.6,184.9 L733.8,179.9 L734.0,174.7 L734.2,175.3 L734.4,176.2 L734.6,175.8 L734.8,172.0 L735.0,166.2 L735.2,159.6 L735.4,149.7 L735.6,138.4 L735.8,128.5 L736.0,122.3 L736.2,117.5 L736.4,113.4 L736.6,109.9 L736.8,106.6 L737.0,103.3 L737.2,99.9 L737.4,96.1 L737.6,92.3 L737.8,88.6 L738.0,84.9 L738.2,81.0 L738.4,76.9 L738.6,72.6 L738.8,68.1 L739.0,63.5 L739.2,58.6 L739.4,53.4 L739.6,48.0 L739.8,41.1 L740.0,34.3 L740.2,30.7 L740.4,28.3 L740.6,26.7 L740.8,26.0 L741.0,25.7 L741.2,26.0 L741.4,28.1 L741.6,29.5 L741.8,28.9 L742.0,27.5 L742.2,24.7 L742.4,20.8 L742.6,17.4 L742.8,14.2 L743.0,11.1 L743.1,9.6" fill="none" stroke="#ff0000" stroke-width="1.2" stroke-linejoin="round"/>
<g text-anchor="middle">
<text x="273.2" y="481.3">3000</text>
<text x="457.2" y="481.3">2000</text>
<text x="642.1" y="481.3">1000</text>
<text x="420.1" y="504.9">Wavenumber (cm-1)</text>
<text transform="translate(24.2,233.7) rotate(-90)">Relative Transmittance</text>
</g>
<g text-anchor="end">
<text x="90.3" y="17.7">1</text>
<text x="90.3" y="112.2">0.8</text>
<text x="90.3" y="206.3">0.6</text>
<text x="90.3" y="300.5">0.4</text>
<text x="90.3" y="394.5">0.2</text>
</g>
</svg>
</body></html>
